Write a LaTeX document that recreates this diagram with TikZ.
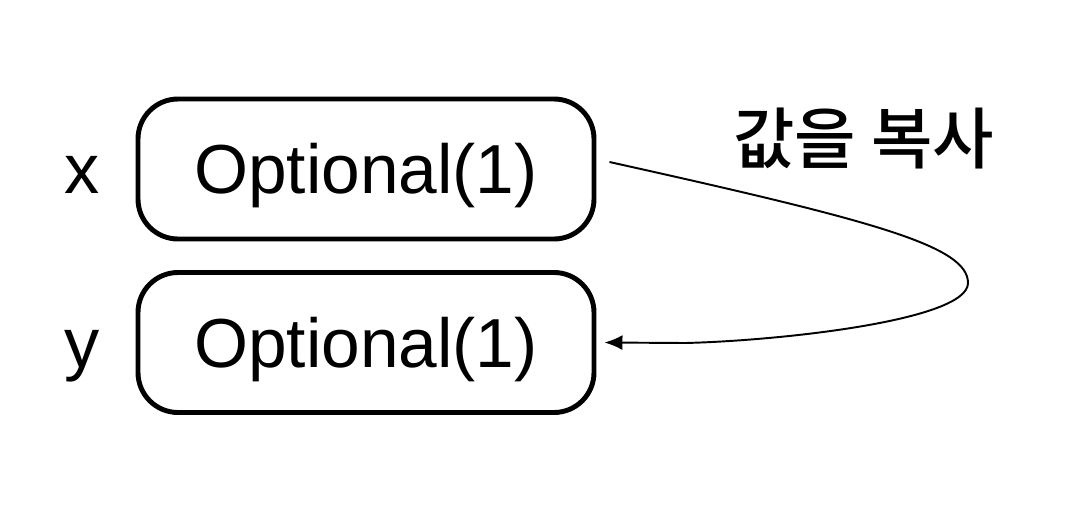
\documentclass[tikz,border=0pt]{standalone}
\usepackage{fontspec}
\setmainfont{Liberation Sans}
\newfontfamily\kofont{Noto Sans CJK KR}[UprightFont=* Medium]
\usetikzlibrary{arrows.meta}
\begin{document}
\begin{tikzpicture}[value box/.style={draw, line width=2.8pt, rounded corners=0.8cm, minimum width=9.12cm, minimum height=2.8cm, text height=28.3pt, text depth=0pt, font=\fontsize{39.5}{44}\selectfont},
    var label/.style={anchor=base, font=\fontsize{40}{44}\selectfont},
    copy line/.style={line width=1.1pt, -{Latex[length=0.36cm, width=0.3cm]}},]
    \useasboundingbox (0,0) rectangle (21.36,10.32);
    \node[value box] (x box) at (7.32,6.94) {Optional(1)};
    \node[value box] (y box) at (7.32,3.47) {Optional(1)};
    \node[var label] (x name) at ([xshift=-5.67cm]x box.base) {x};
    \node[var label] (y name) at ([xshift=-5.67cm]y box.base) {y};
    \node[font=\kofont\fontsize{38}{42}\selectfont] (copy label) at (17.27,7.55) {값을 복사};
    \coordinate (turn) at (19.36,4.66);
    \coordinate (bend) at (13.7,3.46);
    \draw[copy line] ([xshift=0.26cm,yshift=0.14cm]x box.east) .. controls (17.5,5.9) and (19.36,5.4) .. (turn)
        .. controls (19.36,3.9) and (15.5,3.5) .. (bend) -- ([xshift=0.16cm]y box.east);
\end{tikzpicture}
\end{document}
